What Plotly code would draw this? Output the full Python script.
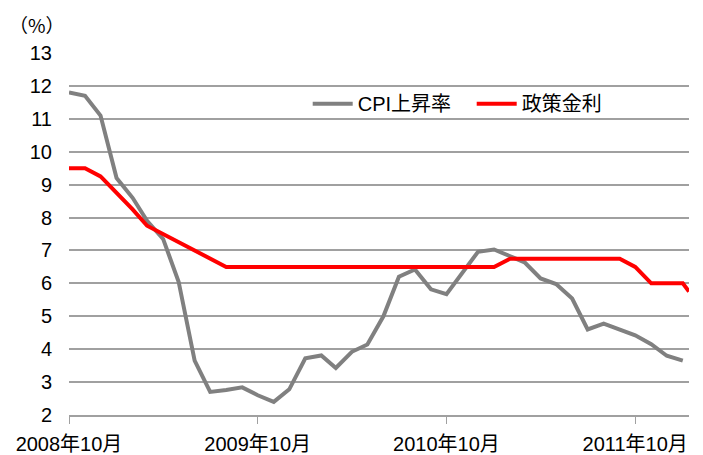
import pandas as pd
import plotly.graph_objects as go

# Data
months = pd.date_range("2008-10-01", periods=40, freq="MS")
cpi_dates = list(months)
rate_dates = list(months) + [pd.Timestamp("2012-01-13")]

cpi_values = [11.8, 11.7, 11.1, 9.2, 8.6, 7.9, 7.35, 6.05, 3.65, 2.7,
              2.76, 2.84, 2.6, 2.4, 2.78, 3.72, 3.81, 3.43, 3.92, 4.14,
              5.0, 6.2, 6.42, 5.82, 5.67, 6.33, 6.96, 7.03, 6.84, 6.64,
              6.15, 5.98, 5.54, 4.6, 4.78, 4.6, 4.42, 4.15, 3.8, 3.65]

rate_values = [9.5, 9.5, 9.25, 8.75, 8.25, 7.75, 7.5, 7.25, 7.0, 6.75] + \
              [6.5] * 18 + [6.75] * 8 + [6.5, 6.0, 6.0, 6.0, 5.75]

series_names = ["CPI上昇率", "政策金利"]
tick_dates = ["2008-10-01", "2009-10-01", "2010-10-01", "2011-10-01"]
tick_labels = ["2008年10月", "2009年10月", "2010年10月", "2011年10月"]
y_ticks = list(range(2, 14))
x_range = ["2008-10-01", "2012-01-13"]

FONT = "Liberation Sans, Arial, Noto Sans CJK JP, sans-serif"
GRID = "#A0A0A0"

fig = go.Figure()
fig.add_trace(go.Scatter(x=cpi_dates, y=cpi_values, mode="lines", name=series_names[0],
                         line=dict(color="#808080", width=4)))
fig.add_trace(go.Scatter(x=rate_dates, y=rate_values, mode="lines", name=series_names[1],
                         line=dict(color="#FF0000", width=4)))

# page body has an 8px default margin, so the figure is sized/offset to compensate
fig.update_layout(
    width=695, height=447,
    margin=dict(l=61, r=14, t=45, b=40),
    paper_bgcolor="white", plot_bgcolor="white",
    font=dict(family=FONT, size=20, color="black"),
    showlegend=True,
    legend=dict(orientation="h", x=0.385, y=0.86, xanchor="left", yanchor="middle",
                bgcolor="rgba(0,0,0,0)", font=dict(size=20, family=FONT),
                itemwidth=40, entrywidth=109, traceorder="normal"),
    xaxis=dict(type="date", range=x_range, tickmode="array", tickvals=tick_dates,
               ticktext=tick_labels, showgrid=False, showline=True, linecolor=GRID,
               linewidth=2, ticks="outside", ticklen=7, tickcolor=GRID, tickwidth=1,
               ticklabelstandoff=3,
               tickfont=dict(size=20, family=FONT), zeroline=False, automargin=False),
    yaxis=dict(range=[2, 13], tickmode="array", tickvals=y_ticks, showgrid=True,
               gridcolor=GRID, gridwidth=1.5, zeroline=False, showline=False,
               ticks="", ticklabelstandoff=16, tickfont=dict(size=20, family=FONT),
               automargin=False),
    annotations=[dict(text="（%）", xref="paper", yref="paper", x=-0.052, y=1.0,
                      xanchor="center", yanchor="bottom", yshift=13, showarrow=False,
                      font=dict(size=19, family="Noto Sans CJK JP"))],
)

fig.write_html("out.html")
